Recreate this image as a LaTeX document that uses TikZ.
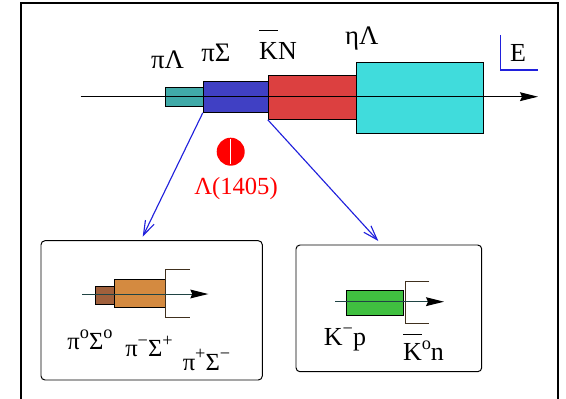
\documentclass[tikz,border=0pt]{standalone}
\usepackage{fontspec}
\setmainfont{Liberation Serif}
\usetikzlibrary{arrows.meta,fit}
\definecolor{chanPiLam}{HTML}{40AAA8}
\definecolor{chanPiSig}{HTML}{4040C4}
\definecolor{chanKN}{HTML}{DC4040}
\definecolor{chanEtaLam}{HTML}{40DCDC}
\definecolor{chanPiSigA}{HTML}{A0603C}
\definecolor{chanPiSigB}{HTML}{D48A40}
\definecolor{chanKp}{HTML}{40C040}
\definecolor{decayblue}{HTML}{2020DC}
\definecolor{axisdark}{HTML}{204444}
\definecolor{bracketdark}{HTML}{40301E}
\newcommand\upsc[1]{\raisebox{0.42em}{\fontsize{13}{13}\selectfont #1}}
\newcommand\barK[1]{$\overline{\mbox{K\rule{0pt}{#1}}}$}
\tikzset{
  chan/.style={draw=black, line width=0.7pt, inner sep=0pt},
  panel/.style={draw=black, line width=0.7pt, rounded corners=1mm, inner sep=0pt},
  lbl/.style={font=\fontsize{18.5}{20}\selectfont, anchor=base, inner sep=0pt},
  glbl/.style={font=\fontsize{19}{20}\selectfont, anchor=base, inner sep=0pt},
  sublbl/.style={font=\fontsize{17.5}{20}\selectfont, anchor=base, inner sep=0pt},
  decay/.style={decayblue, line width=0.8pt, -{Straight Barb[length=3.6mm,width=2.4mm]}},
  subaxis/.style={axisdark, line width=0.7pt, -{Stealth[length=4.5mm,width=2.2mm,inset=0.5mm,color=black]}},
  bracket/.style={bracketdark, line width=0.6pt}
}
\begin{document}
\begin{tikzpicture}[x=0.25mm, y=-0.25mm, >={Stealth[length=4.5mm,width=2.2mm,inset=0.5mm]}]
\useasboundingbox (0,0) rectangle (566,398);
\draw[line width=1.8pt] (21,3) rectangle (558,420);

\node[chan, fill=chanPiLam, fit={(165,87.3) (203.3,106.7)}] (piL) {};
\node[chan, fill=chanPiSig, fit={(203.3,81) (268.3,112.3)}] (piS) {};
\node[chan, fill=chanKN, fit={(268.3,75.3) (356.7,119.3)}] (KN) {};
\node[chan, fill=chanEtaLam, fit={(356.7,62) (483.3,133.3)}] (etaL) {};
\coordinate (mainA) at (80.7,96.7);
\coordinate (mainB) at (538,96.7);
\draw[line width=0.7pt, ->] (mainA) -- (mainB);

\node[glbl] (tpiL) at (167.5,68) {πΛ};
\node[glbl] (tpiS) at (216,61.7) {πΣ};
\node[lbl] (tKN) at (278,60) {\barK{1.08em}N};
\node[glbl] (tetaL) at (361.7,45) {ηΛ};

\coordinate (eTop) at (500.7,35);
\coordinate (eCorner) at (500.7,70);
\coordinate (eEnd) at (538,70);
\draw[decayblue, line width=1pt] (eTop) -- (eCorner) -- (eEnd);
\node[lbl] (tE) at (518,61.7) {E};

\node[circle, fill=red, minimum size=7mm, inner sep=0pt] (lam) at (230.7,151.7) {};
\draw[white, line width=0.5pt] (230.7,139) -- (230.7,164);
\node[sublbl, text=red] (tlam) at (236,194) {Λ(1405)};

\node[panel, fit={(41,240.7) (262.3,380)}] (piSbox) {};
\node[panel, fit={(296,245) (481.7,371.7)}] (KNbox) {};
\coordinate (piStip) at (142.7,236.7);
\coordinate (KNtip) at (378.3,241);
\draw[decay] (piS.south west) -- (piStip);
\draw[decay] (KN.south west) -- (KNtip);

\node[chan, fill=chanPiSigA, fit={(95.7,286.7) (114,304)}] (pi0S0) {};
\node[chan, fill=chanPiSigB, fit={(114,279) (165,307.7)}] (pimSp) {};
\draw[bracket] (190,269.3) -- (165,269.3) -- (165,317.3) -- (190,317.3);
\coordinate (piSA) at (82.3,294);
\coordinate (piSB) at (208.3,294);
\draw[subaxis] (piSA) -- (piSB);
\node[sublbl] (tpi0) at (90,349.3) {π\upsc{o}Σ\upsc{o}};
\node[sublbl] (tpim) at (149,356.7) {π\upsc{−}Σ\upsc{+}};
\node[sublbl] (tpip) at (206.5,370) {π\upsc{+}Σ\upsc{−}};

\node[chan, fill=chanKp, fit={(346.7,290) (403.3,315.7)}] (Kmp) {};
\draw[bracket] (429.3,281) -- (405,281) -- (405,323.3) -- (429.3,323.3);
\coordinate (KNA) at (335,301.7);
\coordinate (KNB) at (444,301.7);
\draw[subaxis] (KNA) -- (KNB);
\node[lbl] (tKmp) at (345,345) {K\upsc{−}p};
\node[lbl] (tK0n) at (423.5,360) {\barK{0.9em}\upsc{o}n};
\end{tikzpicture}
\end{document}
